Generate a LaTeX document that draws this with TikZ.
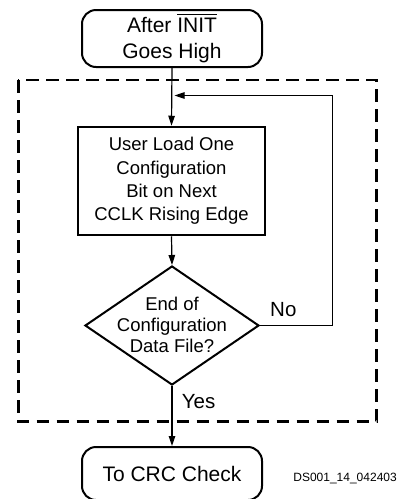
\documentclass[tikz,border=0pt]{standalone}
\usepackage{fontspec}
\setmainfont{Liberation Sans}
\usetikzlibrary{arrows.meta,shapes.geometric}
\newcommand\barred[1]{\vbox{\hrule height 1pt\kern 2.6pt\hbox{#1}}}
\begin{document}
\begin{tikzpicture}[x=1pt,y=1pt,
  term/.style={draw,line width=2pt,rounded corners=14pt,minimum width=180pt,inner sep=0pt,align=center,font=\fontsize{21}{25.7}\selectfont},
  procbox/.style={draw,line width=2.5pt,minimum width=187pt,minimum height=108pt,inner sep=0pt,align=center,font=\fontsize{18.5}{23.3}\selectfont},
  decbox/.style={draw,diamond,line width=2pt,minimum width=174pt,minimum height=119pt,inner sep=0pt},
  dectext/.style={align=center,inner sep=0pt,font=\fontsize{18.5}{21.3}\selectfont},
  conn/.style={line width=1.2pt,-{Triangle[length=10pt,width=6.5pt]}},
  lbl/.style={font=\fontsize{20.5}{24}\selectfont,inner sep=0pt},
  frame/.style={line width=2.8pt,dash pattern=on 12.7pt off 7.3pt}
]
\useasboundingbox (0,0) rectangle (399,-499);
\draw[frame] (18.3,-80) rectangle (376.7,-421.7);
\node[term,minimum height=57pt] (start) at (172,-38.5) {After \barred{INIT}\\Goes High};
\node[procbox] (load) at (171.5,-181) {User Load One\\Configuration\\Bit on Next\\CCLK Rising Edge};
\node[decbox] (dec) at (172,-325.5) {};
\node[dectext] (dectxt) at (172,-325) {End of\\Configuration\\Data File?};
\node[term,minimum height=53pt] (crc) at (172,-473.5) {To CRC Check};
\coordinate (join) at (172,-95.5);
\coordinate (back) at (332.7,-325.5);
\draw[conn] (start.south) -- (load.north);
\draw[conn] (load.south) -- (dec.north);
\draw[conn] (dec.south) -- (crc.north);
\draw[conn,line width=1pt,shorten >=2.5pt] (dec.east) -- (back) |- (join);
\node[lbl,anchor=base west] (no) at (270,-316) {No};
\node[lbl,anchor=base west] (yes) at (181.7,-408) {Yes};
\node[inner sep=0pt,anchor=base east,font=\fontsize{12}{14}\selectfont] (ds) at (397,-481) {DS001\_14\_042403};
\end{tikzpicture}
\end{document}
